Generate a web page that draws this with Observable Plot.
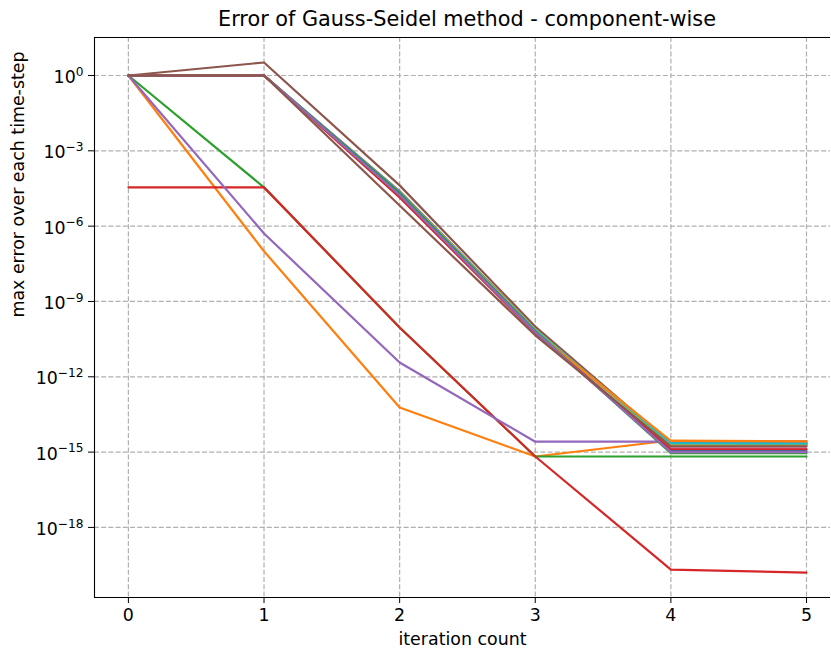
<!DOCTYPE html>
<html>
<head>
<meta charset="utf-8">
<script src="https://cdn.jsdelivr.net/npm/d3@7"></script>
<script src="https://cdn.jsdelivr.net/npm/@observablehq/plot@0.6"></script>
<style>
  html, body { margin: 0; padding: 0; background: #fff; overflow: hidden; }
  #title { margin-left: 94px; width: 746px; height: 30px; box-sizing: border-box; padding-top: 6px;
           font-family: "DejaVu Sans", sans-serif; font-size: 20.8px; line-height: 26px; text-align: center; color: #000; white-space: nowrap; }
</style>
</head>
<body>
<div id="title">Error of Gauss-Seidel method - component-wise</div>
<div id="chart"></div>
<script>
// iteration counts (x)
const iterations = [0, 1, 2, 3, 4, 5];
const xTicks = [0, 1, 2, 3, 4, 5];
const yTicks = [1, 1e-3, 1e-6, 1e-9, 1e-12, 1e-15, 1e-18];
const yTickExponents = ["0", "−3", "−6", "−9", "−12", "−15", "−18"];

// tab10 colour cycle
const colors = ["#1f77b4", "#ff7f0e", "#2ca02c", "#d62728", "#9467bd",
                "#8c564b", "#e377c2", "#7f7f7f", "#bcbd22", "#17becf",
                "#1f77b4", "#ff7f0e", "#2ca02c", "#d62728", "#9467bd", "#8c564b"];

// max error per component, iterations 0..5
const comp0  = [1, 1,     1.8e-5, 7.0e-11, 2.4e-15, 2.3e-15];
const comp1  = [1, 1.0e-7, 6.0e-14, 6.7e-16, 2.9e-15, 2.7e-15];
const comp2  = [1, 3.5e-5, 9.2e-11, 6.7e-16, 6.7e-16, 6.7e-16];
const comp3  = [3.5e-5, 3.5e-5, 9.2e-11, 6.7e-16, 2.1e-20, 1.6e-20];
const comp4  = [1, 5.1e-7, 3.7e-12, 2.6e-15, 2.6e-15, 2.6e-15];
const comp5  = [1, 3.3,   4.2e-5, 1.0e-10, 2.2e-15, 2.1e-15];
const comp6  = [1, 1,     1.5e-5, 6.0e-11, 1.4e-15, 1.4e-15];
const comp7  = [1, 1,     2.5e-5, 8.0e-11, 2.0e-15, 1.9e-15];
const comp8  = [1, 1,     2.2e-5, 7.5e-11, 1.9e-15, 1.8e-15];
const comp9  = [1, 1,     2.0e-5, 7.0e-11, 2.3e-15, 2.2e-15];
const comp10 = [1, 1,     2.1e-5, 6.5e-11, 1.1e-15, 1.1e-15];
const comp11 = [1, 1,     1.6e-5, 6.0e-11, 2.8e-15, 2.7e-15];
const comp12 = [1, 1,     1.9e-5, 6.5e-11, 0.9e-15, 0.9e-15];
const comp13 = [1, 1,     1.4e-5, 5.5e-11, 1.3e-15, 1.3e-15];
const comp14 = [1, 1,     1.7e-5, 6.0e-11, 1.0e-15, 1.0e-15];
const comp15 = [1, 1,     6.6e-6, 4.5e-11, 1.7e-15, 1.7e-15];
const components = [comp0, comp1, comp2, comp3, comp4, comp5, comp6, comp7,
                    comp8, comp9, comp10, comp11, comp12, comp13, comp14, comp15];

const xDomain = [-0.25, 5.177];
const yDomain = [1.62e-21, 32.6];

const lineMarks = components.map((vals, i) =>
  Plot.line(iterations.map((it, j) => ({iter: it, err: vals[j]})),
    {x: "iter", y: "err", stroke: colors[i], strokeWidth: 2.2})
);

const gridStyle = {stroke: "#b0b0b0", strokeWidth: 1.2, strokeDasharray: "5,2.2"};

const chart = Plot.plot({
  width: 831,
  height: 620,
  marginTop: 7,
  marginBottom: 53,
  marginLeft: 94,
  marginRight: 1,
  style: {fontFamily: "DejaVu Sans, sans-serif", fontSize: "17.4px", background: "white", color: "#000", overflow: "visible"},
  x: {domain: xDomain, ticks: xTicks, tickSize: 6, tickPadding: 5, tickFormat: d => String(d), label: null},
  y: {type: "log", domain: yDomain, ticks: yTicks, tickSize: 6, tickFormat: () => "", label: null},
  marks: [
    Plot.ruleX(xTicks, gridStyle),
    Plot.ruleY(yTicks, gridStyle),
    ...lineMarks,
    Plot.ruleX([xDomain[0]], {stroke: "#000", strokeWidth: 1.1}),
    Plot.ruleY([yDomain[0], yDomain[1]], {stroke: "#000", strokeWidth: 1.1}),
    Plot.text(yTicks, {frameAnchor: "left", y: d => d, text: (d, i) => "10|" + yTickExponents[i],
      textAnchor: "end", dx: -11, dy: 2, lineAnchor: "middle", fontSize: 17.4}),
    Plot.text(["iteration count"], {frameAnchor: "bottom", dy: 42, lineAnchor: "middle", fontSize: 17.4}),
    Plot.text(["max error over each time-step"], {frameAnchor: "left", dx: -76, rotate: -90, lineAnchor: "middle", fontSize: 17.4})
  ]
});

document.getElementById("chart").appendChild(chart);

// render exponents as superscripts, right-aligned next to the tick marks
chart.querySelectorAll("text").forEach(t => {
  const txt = t.textContent;
  if (!txt.includes("|")) return;
  const parts = txt.split("|");
  while (t.firstChild) t.removeChild(t.firstChild);
  const base = document.createElementNS("http://www.w3.org/2000/svg", "tspan");
  base.textContent = parts[0];
  const sup = document.createElementNS("http://www.w3.org/2000/svg", "tspan");
  sup.textContent = parts[1];
  sup.setAttribute("font-size", "12.2px");
  sup.setAttribute("dy", "-0.6em");
  t.appendChild(base);
  t.appendChild(sup);
  t.setAttribute("text-anchor", "start");
  const len = t.getComputedTextLength();
  t.setAttribute("x", String(-len));
});
</script>
</body>
</html>
